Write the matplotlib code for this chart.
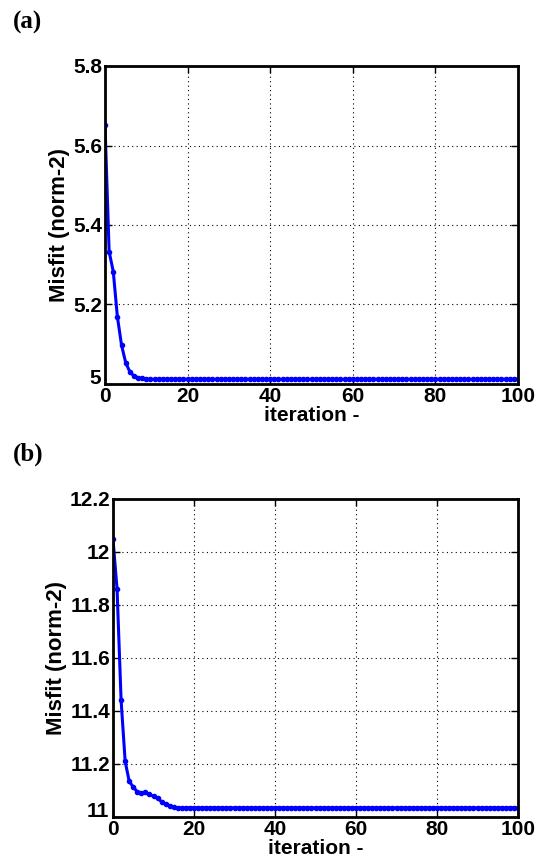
import matplotlib
matplotlib.use("Agg")
import matplotlib.pyplot as plt
import matplotlib.transforms as mtransforms

# ---- data ----
iter_a = list(range(0, 101))
misfit_a_head = [5.652, 5.333, 5.283, 5.169, 5.098, 5.054, 5.031, 5.020, 5.016, 5.014]
misfit_a_tail = [5.012] * (101 - len(misfit_a_head))
misfit_a = misfit_a_head + misfit_a_tail

iter_b = list(range(0, 101))
misfit_b_head = [12.048, 11.860, 11.440, 11.210, 11.135, 11.113, 11.095, 11.092, 11.093,
                 11.086, 11.078, 11.070, 11.058, 11.048, 11.042, 11.038]
misfit_b_tail = [11.035] * (101 - len(misfit_b_head))
misfit_b = misfit_b_head + misfit_b_tail

xticks = [0, 20, 40, 60, 80, 100]
yticks_a = [5, 5.2, 5.4, 5.6, 5.8]
yticklabels_a = ["5", "5.2", "5.4", "5.6", "5.8"]
yticks_b = [11, 11.2, 11.4, 11.6, 11.8, 12, 12.2]
yticklabels_b = ["11", "11.2", "11.4", "11.6", "11.8", "12", "12.2"]
xlabel = "iteration -"
ylabel = "Misfit (norm-2)"
panel_labels = ["(a)", "(b)"]

# ---- figure ----
W, H = 542, 863
fig = plt.figure(figsize=(W / 100, H / 100), dpi=100)

def px_axes(l, t, r, b):
    return fig.add_axes([l / W, 1 - b / H, (r - l) / W, (b - t) / H])

ax_a = px_axes(105, 66, 518, 384)
ax_b = px_axes(113, 499, 518, 817)

tickfont = dict(family="Liberation Sans", weight="bold", size=15)

def style(ax, x, y, yt, ytl, ylim):
    ax.plot(x, y, color=(0, 0, 1), lw=2.2, marker=".", ms=6)
    ax.set_xlim(0, 100)
    ax.set_ylim(*ylim)
    ax.set_xticks(xticks)
    ax.set_xticklabels([str(v) for v in xticks], fontdict=tickfont)
    ax.set_yticks(yt)
    ax.set_yticklabels(ytl, fontdict=tickfont)
    ax.grid(True, color="black", linestyle=(0, (1, 3)), linewidth=0.8)
    ax.tick_params(direction="in", length=5, width=1, top=True, right=True, pad=2)
    for s in ax.spines.values():
        s.set_linewidth(2)
        s.set_color("black")
    ax.set_xlabel(xlabel, fontsize=15, fontweight="bold", family="Liberation Sans", labelpad=0)
    ax.set_ylabel(ylabel, fontsize=16, fontweight="bold", family="Liberation Sans", labelpad=2)
    # MATLAB-style: lowest y tick label sits a bit higher, clear of the x "0"
    lab = ax.get_yticklabels()[0]
    lab.set_transform(lab.get_transform() +
                      mtransforms.ScaledTranslation(-1 / 100, 7 / 100, fig.dpi_scale_trans))

style(ax_a, iter_a, misfit_a, yticks_a, yticklabels_a, (5, 5.8))
style(ax_b, iter_b, misfit_b, yticks_b, yticklabels_b, (11, 12.2))

fig.text(13 / W, 1 - 22 / H, panel_labels[0], family="Liberation Serif", weight="bold",
         fontsize=18, va="center", ha="left")
fig.text(13 / W, 1 - 454 / H, panel_labels[1], family="Liberation Serif", weight="bold",
         fontsize=18, va="center", ha="left")

fig.savefig("out.png", dpi=100)
